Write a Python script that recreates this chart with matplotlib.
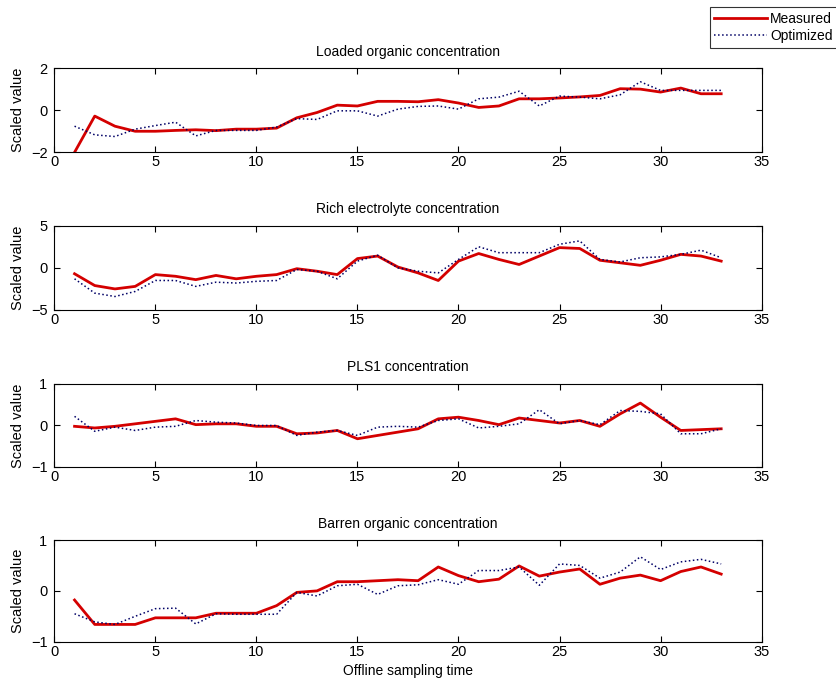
#!/usr/bin/env python3
import matplotlib
matplotlib.use("Agg")
import matplotlib.pyplot as plt

plt.rcParams['font.family'] = ['Liberation Sans', 'DejaVu Sans']
plt.rcParams['font.size'] = 10

# sampling index
samples = list(range(1, 34))

loaded_measured = [-2.0, -0.28, -0.76, -1.0, -1.0, -0.96, -0.93, -0.97, -0.9, -0.9, -0.85,
                   -0.36, -0.11, 0.24, 0.2, 0.42, 0.42, 0.4, 0.5, 0.34, 0.13, 0.2, 0.54,
                   0.54, 0.58, 0.63, 0.7, 1.02, 1.0, 0.86, 1.05, 0.78, 0.78]
loaded_optimized = [-0.76, -1.17, -1.25, -0.9, -0.73, -0.57, -1.22, -0.96, -0.96, -0.96, -0.8,
                    -0.4, -0.44, -0.03, -0.03, -0.28, 0.05, 0.18, 0.2, 0.05, 0.54, 0.62, 0.9,
                    0.2, 0.67, 0.62, 0.54, 0.73, 1.35, 0.94, 0.94, 0.94, 0.94]

rich_measured = [-0.7, -2.1, -2.5, -2.2, -0.8, -1.0, -1.4, -0.9, -1.3, -1.0, -0.8,
                 -0.1, -0.4, -0.8, 1.1, 1.4, 0.1, -0.6, -1.5, 0.8, 1.7, 1.0, 0.4,
                 1.4, 2.4, 2.3, 0.9, 0.6, 0.3, 0.9, 1.6, 1.4, 0.8]
rich_optimized = [-1.3, -3.0, -3.4, -2.8, -1.5, -1.5, -2.2, -1.7, -1.8, -1.6, -1.5,
                  -0.2, -0.4, -1.3, 0.8, 1.5, 0.0, -0.4, -0.6, 1.0, 2.5, 1.8, 1.8,
                  1.8, 2.8, 3.2, 1.0, 0.7, 1.2, 1.3, 1.6, 2.1, 1.2]

pls1_measured = [-0.02, -0.06, -0.02, 0.04, 0.1, 0.16, 0.02, 0.04, 0.04, -0.02, -0.02,
                 -0.2, -0.18, -0.12, -0.32, -0.24, -0.16, -0.08, 0.16, 0.2, 0.12, 0.02, 0.18,
                 0.12, 0.06, 0.12, -0.02, 0.28, 0.54, 0.2, -0.12, -0.1, -0.08]
pls1_optimized = [0.22, -0.14, -0.04, -0.12, -0.04, -0.02, 0.12, 0.08, 0.06, 0.0, 0.0,
                  -0.24, -0.16, -0.12, -0.24, -0.04, -0.02, -0.04, 0.12, 0.16, -0.06, -0.02, 0.04,
                  0.38, 0.04, 0.12, 0.02, 0.36, 0.34, 0.28, -0.2, -0.2, -0.08]

barren_measured = [-0.18, -0.66, -0.66, -0.66, -0.53, -0.53, -0.53, -0.44, -0.44, -0.44, -0.29,
                   -0.03, 0.0, 0.18, 0.18, 0.2, 0.22, 0.2, 0.47, 0.3, 0.18, 0.23, 0.49,
                   0.29, 0.37, 0.43, 0.13, 0.25, 0.31, 0.2, 0.38, 0.47, 0.33]
barren_optimized = [-0.45, -0.61, -0.66, -0.5, -0.35, -0.34, -0.65, -0.45, -0.46, -0.46, -0.46,
                    -0.03, -0.1, 0.1, 0.13, -0.07, 0.1, 0.12, 0.22, 0.13, 0.4, 0.4, 0.47,
                    0.11, 0.53, 0.5, 0.25, 0.37, 0.67, 0.42, 0.57, 0.62, 0.53]

titles = ["Loaded organic concentration", "Rich electrolyte concentration",
          "PLS1 concentration", "Barren organic concentration"]
ylims = [(-2, 2), (-5, 5), (-1, 1), (-1, 1)]
yticks = [[-2, 0, 2], [-5, 0, 5], [-1, 0, 1], [-1, 0, 1]]
measured = [loaded_measured, rich_measured, pls1_measured, barren_measured]
optimized = [loaded_optimized, rich_optimized, pls1_optimized, barren_optimized]

# axes rectangles in figure fractions
positions = [
    [0.065, 0.7773, 0.846, 0.1232],
    [0.065, 0.5468, 0.846, 0.1232],
    [0.065, 0.3173, 0.846, 0.1213],
    [0.065, 0.0618, 0.846, 0.1487],
]

fig = plt.figure(figsize=(8.36, 6.84), dpi=100)
for i in range(4):
    ax = fig.add_axes(positions[i])
    ax.plot(samples, measured[i], color='#d40000', linewidth=2, label='Measured')
    ax.plot(samples, optimized[i], color='#000066', linestyle=':', linewidth=1.1, label='Optimized')
    ax.set_xlim(0, 35)
    ax.set_ylim(*ylims[i])
    ax.set_xticks(range(0, 36, 5))
    ax.set_yticks(yticks[i])
    ax.tick_params(direction='in', top=True, right=True, length=4, labelsize=10.5)
    ax.tick_params(axis='x', pad=2)
    ax.tick_params(axis='y', pad=5)
    ax.set_title(titles[i], fontsize=10, pad=9)
    ax.set_ylabel("Scaled value", fontsize=10.5, labelpad=4)
    for s in ax.spines.values():
        s.set_linewidth(0.8)
    if i == 3:
        ax.set_xlabel("Offline sampling time", fontsize=10, labelpad=4)
        handles, labels = ax.get_legend_handles_labels()

leg = fig.legend(handles, labels, loc='upper right', bbox_to_anchor=(1.01, 1.0),
                 fontsize=10, frameon=True, fancybox=False, edgecolor='black',
                 handlelength=3.8, handletextpad=0.2, borderpad=0.35, labelspacing=0.25)
leg.get_frame().set_linewidth(0.8)

plt.savefig("out.png", dpi=100)
